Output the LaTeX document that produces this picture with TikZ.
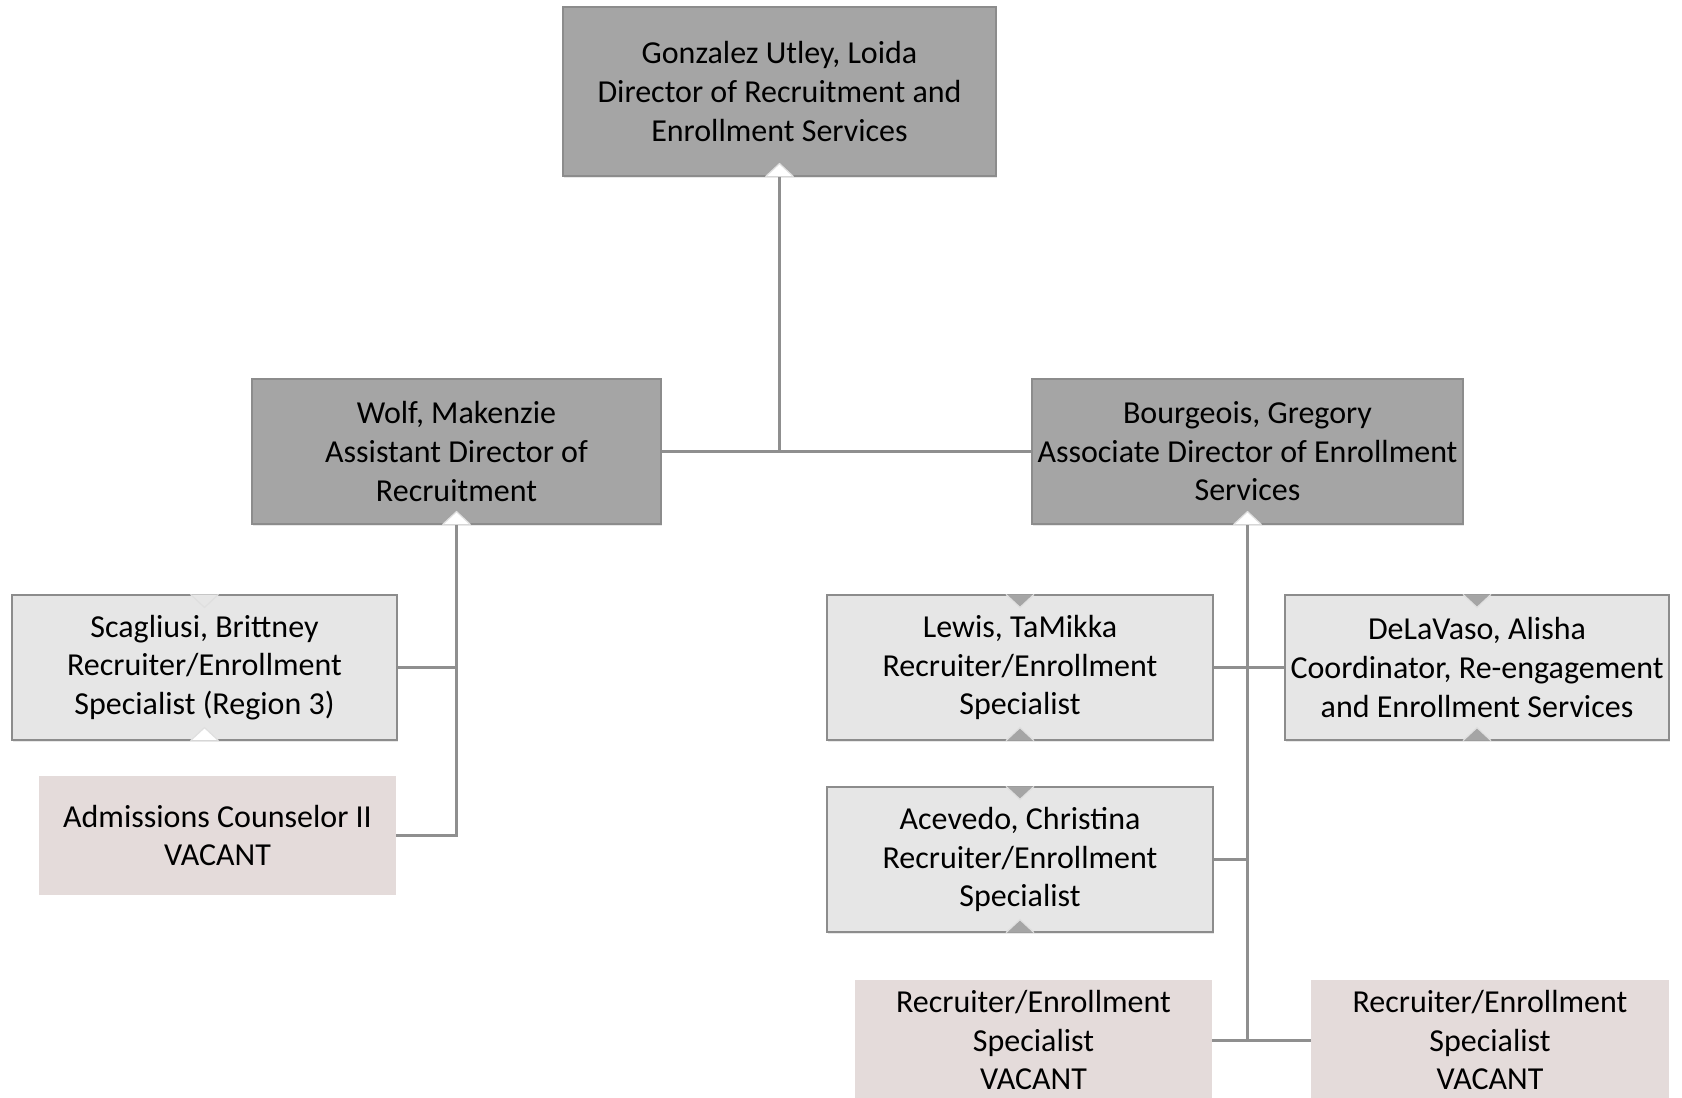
\documentclass[tikz,border=0pt]{standalone}
\usepackage{fontspec}
\setmainfont{Carlito}
\usetikzlibrary{shadows}

\definecolor{headgray}{HTML}{A5A5A5}
\definecolor{staffgray}{HTML}{E6E6E6}
\definecolor{vacantrose}{HTML}{E4DBDA}
\definecolor{linegray}{HTML}{8F8F8F}
\definecolor{edgegray}{HTML}{8C8C8C}

% notch marks on the box edges
\newcommand{\notchup}[2]{%
	\filldraw[notch=#2] ([xshift=-7pt]#1.south) -- ++(14,-13) -- ++(14,13);}
\newcommand{\notchdown}[2]{%
	\filldraw[notch=#2] ([xshift=-7pt]#1.north) -- ++(14,13) -- ++(14,-13);}

\begin{document}
\begin{tikzpicture}[
	x = 0.5pt, y = -0.5pt,
	every node/.style = {align=center, text=black, inner sep=0pt,
		font=\fontsize{16pt}{19.3pt}\selectfont},
	box/.style = {rectangle, draw=edgegray, line width=0.6pt,
		drop shadow={shadow xshift=0.5pt, shadow yshift=-1.2pt, opacity=0.18}},
	head/.style = {box, fill=headgray},
	staff/.style = {box, fill=staffgray},
	vacant/.style = {rectangle, fill=vacantrose},
	conn/.style = {draw=linegray, line width=1.5pt},
	notch/.style = {draw=gray!25, line width=0.6pt, fill=#1}
	]
	\useasboundingbox (0,0) rectangle (1682,1098);

	\node[head, minimum width=216.5pt, minimum height=84.5pt] (top) at (779.5,91.5)
		{Gonzalez Utley, Loida\\Director of Recruitment and\\Enrollment Services};

	\node[head, minimum width=204.5pt, minimum height=72.5pt] (wolf) at (456.5,451.5)
		{Wolf, Makenzie\\Assistant Director of\\Recruitment};
	\node[head, minimum width=215.5pt, minimum height=72.5pt] (bourg) at (1247.5,451.5)
		{Bourgeois, Gregory\\Associate Director of Enrollment\\Services};

	\node[staff, minimum width=192.5pt, minimum height=72.5pt] (scag) at (204.5,667.5)
		{Scagliusi, Brittney\\Recruiter/Enrollment\\Specialist (Region 3)};
	\node[vacant, minimum width=178.5pt, minimum height=59.5pt] (adm) at (217.5,835.5)
		{Admissions Counselor II\\VACANT};

	\node[staff, minimum width=193pt, minimum height=72.5pt] (lewis) at (1020,667.5)
		{Lewis, TaMikka\\Recruiter/Enrollment\\Specialist};
	\node[staff, minimum width=192pt, minimum height=72.5pt] (dela) at (1477,667.5)
		{DeLaVaso, Alisha\\Coordinator, Re-engagement\\and Enrollment Services};
	\node[staff, minimum width=193pt, minimum height=72.5pt] (acev) at (1020,859.5)
		{Acevedo, Christina\\Recruiter/Enrollment\\Specialist};
	\node[vacant, minimum width=178.5pt, minimum height=60pt] (vac1) at (1033.5,1040)
		{Recruiter/Enrollment\\Specialist\\VACANT};
	\node[vacant, minimum width=179pt, minimum height=60pt] (vac2) at (1490,1040)
		{Recruiter/Enrollment\\Specialist\\VACANT};

	% connectors
	\draw[conn] (top.south) -- (top.south |- wolf.east);
	\draw[conn] (wolf.east) -- (bourg.west);
	\draw[conn] (wolf.south) -- (wolf.south |- adm.east) -- (adm.east);
	\draw[conn] (scag.east) -- (scag.east -| wolf.south);
	\draw[conn] (bourg.south) -- (bourg.south |- vac1.east);
	\draw[conn] (lewis.east) -- (dela.west);
	\draw[conn] (acev.east) -- (acev.east -| bourg.south);
	\draw[conn] (vac1.east) -- (vac2.west);

	% notches
	\notchup{top}{white}
	\notchup{wolf}{white}
	\notchup{bourg}{white}
	\notchdown{scag}{staffgray}
	\notchup{scag}{white}
	\foreach \n in {lewis, dela, acev} {
		\notchdown{\n}{headgray}
		\notchup{\n}{headgray}
	}
\end{tikzpicture}
\end{document}
